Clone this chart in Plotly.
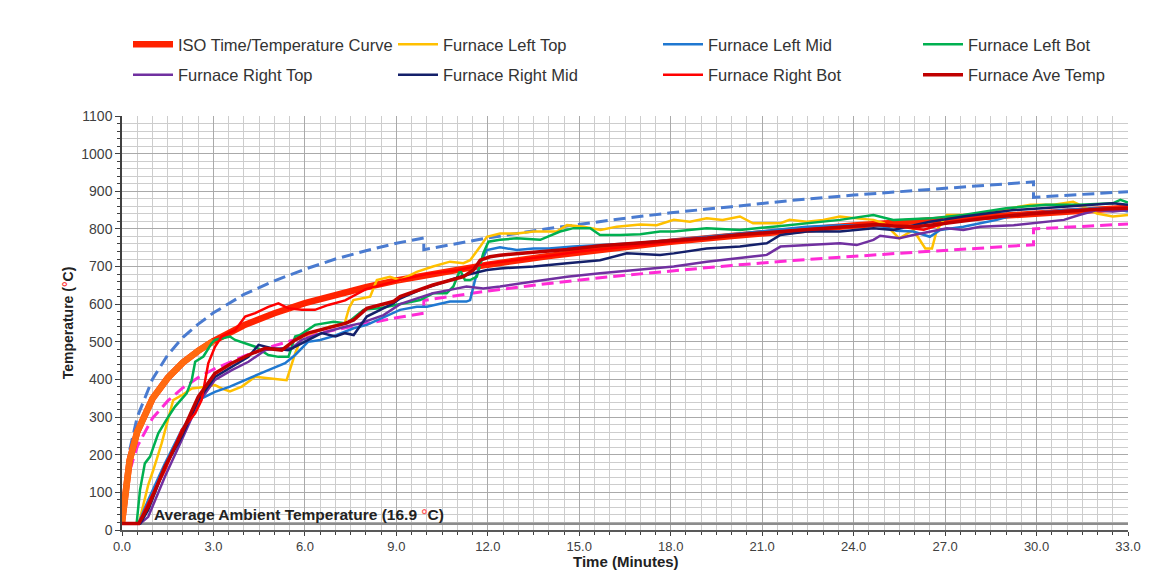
import plotly.graph_objects as go

# ---------------- data ----------------
AMBIENT = 16.9

ISO_T = [0, 0.25, 0.5, 1, 1.5, 2, 2.5, 3, 4, 5, 6, 7, 8, 9, 10, 12, 14, 16, 18, 20, 22, 24, 26, 28, 30, 33]
ISO_V = [20, 185, 261, 349, 404, 445, 476, 502, 544, 576, 603, 626, 645, 663, 678, 705, 728, 748, 766, 781, 796, 809, 820, 831, 842, 856]

UP_T = [0, 0.25, 0.5, 1, 1.5, 2, 2.5, 3, 4, 5, 6, 7, 8, 9, 9.9, 9.9, 12, 14, 16, 18, 20, 22, 24, 26, 28, 29.9, 29.9, 33]
UP_V = [23, 212, 300, 401, 465, 512, 547, 577, 626, 662, 693, 720, 742, 762, 776, 745, 776, 801, 823, 843, 859, 876, 890, 902, 914, 925, 884, 899]

LO_T = [0, 0.25, 0.5, 1, 1.5, 2, 2.5, 3, 4, 5, 6, 7, 8, 9, 9.9, 9.9, 12, 14, 16, 18, 20, 22, 24, 26, 28, 29.9, 29.9, 33]
LO_V = [17, 157, 222, 297, 343, 378, 405, 427, 462, 490, 513, 532, 548, 564, 576, 610, 635, 655, 673, 689, 703, 716, 728, 738, 748, 758, 800, 813]

LT_T = [0, 0.55, 0.86, 1.03, 1.3, 1.68, 2.0, 2.29, 2.7, 3.05, 3.3, 3.54, 3.93, 4.37, 4.8, 5.24, 5.4, 5.68, 5.9, 6.3, 6.8, 7.3, 7.45, 7.59, 8.14, 8.36, 8.79, 9.12, 9.67, 10.2, 10.76, 11.2, 11.42, 11.75, 11.97, 12.4, 12.95, 13.5, 14.26, 14.6, 15.14, 15.7, 16.23, 17.0, 17.54, 18.1, 18.63, 19.18, 19.7, 20.27, 20.7, 21.15, 21.6, 21.9, 22.46, 23.0, 23.55, 24.1, 24.65, 25.0, 25.5, 25.96, 26.18, 26.35, 26.57, 26.73, 27.06, 27.7, 28.15, 28.8, 29.5, 29.8, 30.56, 31.2, 31.65, 31.98, 32.5, 33.0]
LT_V = [17, 17, 120, 160, 230, 345, 360, 376, 380, 385, 375, 368, 381, 407, 403, 399, 398, 469, 514, 525, 540, 548, 590, 611, 620, 664, 673, 664, 686, 700, 713, 709, 717, 753, 779, 788, 788, 793, 793, 810, 806, 797, 806, 812, 810, 824, 819, 828, 824, 833, 815, 815, 815, 824, 819, 824, 833, 828, 824, 815, 775, 797, 771, 748, 748, 797, 837, 837, 841, 850, 859, 864, 864, 872, 855, 841, 833, 837]

LM_T = [0, 0.54, 0.86, 1.41, 1.96, 2.45, 2.5, 2.94, 3.05, 3.54, 4.15, 4.8, 5.35, 5.68, 6.1, 6.5, 6.94, 7.6, 8.03, 8.9, 9.12, 9.67, 10.0, 10.76, 11.3, 11.42, 11.58, 11.75, 11.97, 12.4, 12.95, 13.5, 14.0, 14.8, 15.68, 16.78, 17.65, 18.1, 19.18, 20.27, 21.37, 22.46, 23.55, 24.65, 25.0, 25.4, 25.96, 26.5, 26.84, 27.6, 28.15, 28.7, 29.25, 29.8, 30.9, 31.98, 32.5, 33.0]
LM_V = [17, 18, 80, 177, 266, 328, 345, 363, 367, 381, 403, 425, 443, 465, 500, 505, 515, 536, 545, 576, 585, 593, 593, 607, 607, 611, 664, 709, 744, 751, 744, 748, 748, 753, 757, 762, 768, 771, 779, 788, 797, 806, 810, 810, 806, 795, 793, 779, 797, 806, 815, 824, 837, 841, 850, 855, 855, 846]

LB_T = [0, 0.48, 0.59, 0.75, 0.92, 1.19, 1.52, 1.74, 2.12, 2.29, 2.40, 2.67, 2.94, 3.05, 3.54, 3.71, 4.37, 4.8, 5.13, 5.46, 5.68, 5.84, 6.33, 6.94, 7.37, 7.92, 8.5, 9.12, 9.78, 10.2, 10.65, 10.87, 11.09, 11.25, 11.42, 11.64, 11.85, 12.02, 12.4, 12.95, 13.72, 14.37, 14.81, 15.36, 15.68, 16.34, 17.0, 17.65, 18.1, 19.18, 20.27, 21.37, 22.46, 23.55, 24.65, 25.3, 26.5, 27.6, 29.0, 30.3, 31.4, 32.5, 32.75, 33.0]
LB_V = [17, 17, 106, 177, 195, 257, 301, 328, 363, 399, 447, 461, 496, 505, 514, 505, 487, 465, 460, 460, 514, 518, 545, 553, 549, 585, 590, 600, 611, 629, 629, 647, 691, 664, 664, 673, 735, 766, 771, 775, 771, 793, 802, 802, 784, 784, 786, 793, 793, 802, 797, 806, 815, 824, 837, 824, 828, 837, 855, 864, 864, 868, 877, 870]

RT_T = [0, 0.6, 0.86, 1.41, 1.96, 2.5, 3.05, 3.6, 4.15, 4.7, 5.24, 5.57, 5.9, 6.55, 7.32, 7.81, 8.58, 9.12, 9.78, 10.2, 10.76, 11.3, 11.85, 12.4, 13.5, 14.6, 15.68, 16.78, 17.65, 18.1, 19.18, 20.27, 21.15, 21.6, 22.46, 23.55, 24.1, 24.65, 24.87, 25.5, 25.96, 26.5, 27.06, 27.6, 28.15, 29.25, 30.3, 30.9, 31.4, 31.98, 32.5, 33.0]
RT_V = [17, 17, 35, 142, 239, 337, 399, 425, 447, 478, 483, 483, 505, 523, 540, 549, 571, 600, 618, 629, 638, 647, 642, 647, 660, 673, 682, 691, 698, 700, 713, 722, 731, 753, 757, 762, 757, 771, 782, 775, 784, 793, 802, 797, 806, 810, 819, 824, 837, 850, 846, 850]

RM_T = [0, 0.6, 0.86, 1.41, 1.96, 2.5, 3.05, 3.6, 4.15, 4.48, 4.91, 5.46, 5.9, 6.55, 7.0, 7.32, 7.6, 8.03, 8.9, 9.12, 9.78, 10.43, 11.09, 11.53, 11.97, 12.4, 13.5, 14.6, 15.68, 16.56, 17.65, 18.1, 19.18, 20.27, 21.15, 21.6, 22.46, 23.55, 24.65, 25.3, 26.5, 27.6, 29.25, 30.9, 32.5, 33.0]
RM_V = [17, 17, 53, 168, 248, 345, 407, 434, 460, 492, 483, 478, 496, 523, 514, 523, 518, 567, 602, 615, 638, 655, 673, 682, 691, 695, 700, 709, 717, 735, 731, 735, 748, 753, 762, 784, 793, 793, 802, 797, 819, 833, 850, 859, 868, 864]

RB_T = [0, 0.55, 0.86, 1.41, 1.96, 2.4, 2.61, 2.72, 2.83, 3.05, 3.27, 3.71, 4.04, 4.37, 4.8, 5.13, 5.46, 5.9, 6.33, 6.77, 7.32, 8.0, 9.0, 10.0, 11.0, 12.0, 13.0, 14.0, 15.0, 16.0, 17.0, 18.0, 19.0, 20.0, 21.0, 22.0, 23.0, 24.0, 25.0, 25.6, 26.3, 27.0, 28.0, 29.0, 30.0, 31.0, 32.0, 33.0]
RB_V = [17, 17, 71, 159, 266, 310, 345, 390, 443, 487, 514, 531, 567, 576, 593, 602, 589, 585, 585, 598, 610, 640, 662, 680, 690, 708, 718, 728, 740, 748, 758, 765, 773, 782, 788, 796, 802, 808, 812, 805, 798, 815, 828, 835, 843, 848, 852, 856]

AV_T = [0, 0.55, 0.86, 1.41, 1.96, 2.5, 3.05, 3.6, 4.15, 4.7, 5.24, 5.68, 6.1, 6.66, 7.32, 7.6, 8.03, 8.9, 9.12, 10.2, 10.76, 11.2, 11.53, 11.75, 12.07, 12.4, 13.5, 14.6, 15.7, 17.0, 18.1, 19.2, 20.3, 21.4, 22.5, 23.6, 24.7, 25.3, 26.0, 26.5, 27.6, 28.7, 29.8, 30.9, 32.0, 33.0]
AV_V = [17, 17, 62, 168, 257, 354, 416, 443, 465, 483, 478, 505, 523, 536, 549, 558, 589, 607, 620, 651, 664, 673, 691, 717, 726, 730, 738, 745, 755, 762, 770, 776, 785, 792, 800, 806, 812, 808, 806, 810, 822, 832, 840, 846, 852, 855]

X_TICKS = [0, 3, 6, 9, 12, 15, 18, 21, 24, 27, 30, 33]
Y_TICKS = [0, 100, 200, 300, 400, 500, 600, 700, 800, 900, 1000, 1100]

FONT = "Liberation Sans, Arial, sans-serif"

fig = go.Figure()

# tolerance limits (not in legend)
fig.add_trace(go.Scatter(x=UP_T, y=UP_V, mode="lines", showlegend=False, hoverinfo="skip",
                         line=dict(color="#4A7BD0", width=3, dash="12px,6px")))
fig.add_trace(go.Scatter(x=LO_T, y=LO_V, mode="lines", showlegend=False, hoverinfo="skip",
                         line=dict(color="#FF2BD6", width=3, dash="12px,6px")))
# ambient line
fig.add_trace(go.Scatter(x=[X_TICKS[0], X_TICKS[-1]], y=[AMBIENT, AMBIENT], mode="lines",
                         showlegend=False, hoverinfo="skip", line=dict(color="#8c8c8c", width=2.5)))

# ISO curve (thick), early part orange
fig.add_trace(go.Scatter(x=ISO_T, y=ISO_V, mode="lines", name="ISO Time/Temperature Curve",
                         legend="legend", legendgroup="g1", line=dict(color="#FF2200", width=6.5)))
fig.add_trace(go.Scatter(x=ISO_T[:8], y=ISO_V[:8], mode="lines", showlegend=False, hoverinfo="skip",
                         line=dict(color="#FF6A10", width=6.5)))

series = [
    ("Furnace Left Top", LT_T, LT_V, "#FFC000", 2.5, "legend2"),
    ("Furnace Left Mid", LM_T, LM_V, "#1F78D1", 2.5, "legend3"),
    ("Furnace Left Bot", LB_T, LB_V, "#00B050", 2.5, "legend4"),
    ("Furnace Right Top", RT_T, RT_V, "#7030A0", 2.5, "legend"),
    ("Furnace Right Mid", RM_T, RM_V, "#14206A", 2.5, "legend2"),
    ("Furnace Right Bot", RB_T, RB_V, "#FF0000", 2.5, "legend3"),
    ("Furnace Ave Temp", AV_T, AV_V, "#C00000", 3.5, "legend4"),
]
for i, (name, t, v, c, w, lg) in enumerate(series):
    fig.add_trace(go.Scatter(x=t, y=v, mode="lines", name=name, legend=lg, legendgroup=f"s{i}",
                             line=dict(color=c, width=w)))

fig.add_annotation(x=1.0, y=AMBIENT + 24, xref="x", yref="y", xanchor="left", yanchor="middle",
                   text="<b>Average Ambient Temperature (16.9 <span style='color:#ff5a5a'>°</span>C)</b>",
                   showarrow=False, font=dict(family=FONT, size=15.5, color="#222222"))

# x-axis title placed as annotation (sits closer to tick labels than standoff allows)
fig.add_annotation(x=0.501, y=-0.0755, xref="paper", yref="paper", xanchor="center", yanchor="middle",
                   text="<b>Time (Minutes)</b>", showarrow=False,
                   font=dict(family=FONT, size=15, color="#222222"))

def legend_at(px):
    return dict(orientation="v", xanchor="left", yanchor="top", x=(px - 122) / 1006, y=1.215,
                bgcolor="rgba(0,0,0,0)", font=dict(family=FONT, size=16.5, color="#333333"),
                itemwidth=40, tracegroupgap=6, traceorder="grouped")

fig.update_layout(
    width=1152, height=579,
    margin=dict(l=122, r=24, t=116, b=49),
    paper_bgcolor="white", plot_bgcolor="white",
    font=dict(family=FONT, color="#404040"),
    legend=legend_at(128),
    legend2=legend_at(393),
    legend3=legend_at(658),
    legend4=legend_at(918),
    xaxis=dict(range=[0, 33], tickvals=X_TICKS, tickformat=".1f", showgrid=True, automargin=False,
               gridcolor="#aaaaaa", gridwidth=1.2, zeroline=False,
               showline=True, linecolor="#595959", linewidth=1.5,
               ticks="outside", ticklen=4, tickcolor="#404040",
               tickfont=dict(family=FONT, size=13, color="#404040"),
               minor=dict(dtick=0.5, showgrid=True, gridcolor="#cdcdcd", gridwidth=1,
                          ticks="outside", ticklen=3, tickcolor="#404040")),
    yaxis=dict(range=[0, 1100], tickvals=Y_TICKS, showgrid=True, automargin=False,
               gridcolor="#aaaaaa", gridwidth=1.2, zeroline=False,
               showline=True, linecolor="#404040", linewidth=1.5,
               ticks="outside", ticklen=5, tickcolor="#404040",
               tickfont=dict(family=FONT, size=14, color="#404040"),
               minor=dict(dtick=20, showgrid=True, gridcolor="#cdcdcd", gridwidth=1,
                          ticks="outside", ticklen=3, tickcolor="#404040"),
               title=dict(text="<b>Temperature (<span style='color:#ff4040'>°</span>C)</b>", standoff=4,
                          font=dict(family=FONT, size=14, color="#222222"))),
)

fig.write_html("out.html")
